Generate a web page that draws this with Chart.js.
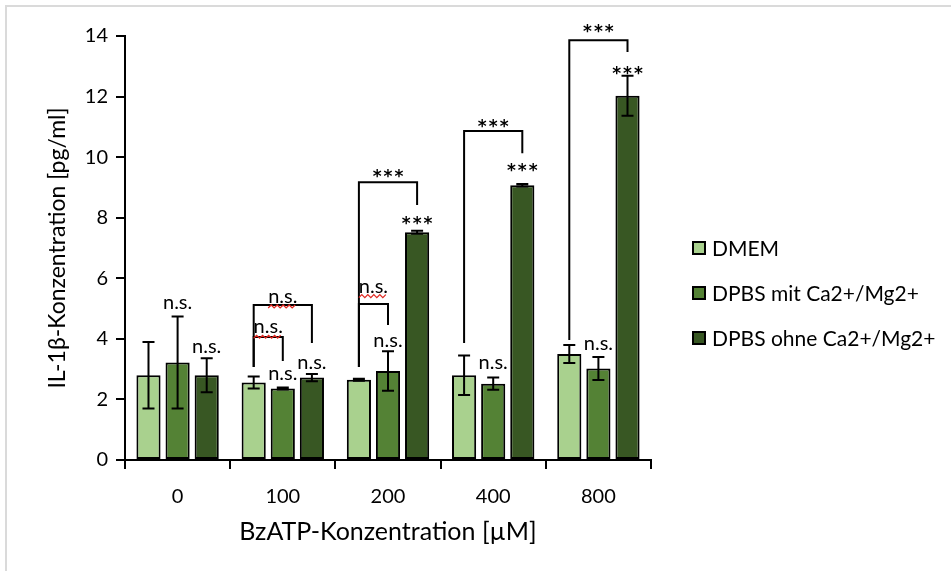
<!DOCTYPE html>
<html>
<head>
<meta charset="utf-8">
<script src="https://cdn.jsdelivr.net/npm/chart.js@4.4.1/dist/chart.umd.min.js"></script>
<style>
  html, body { margin: 0; padding: 0; background: #fff; }
  #wrap { position: relative; width: 951px; height: 571px; }
  #frame { position: absolute; left: 5px; top: 5px; right: 0; bottom: 0;
           border-top: 2px solid #dadada; border-left: 2px solid #dadada; pointer-events: none; }
</style>
</head>
<body>
<div id="wrap">
  <canvas id="il1bChart" width="951" height="571"></canvas>
  <div id="frame"></div>
</div>
<script>
// BzATP concentrations (µM)
const categories = ['0', '100', '200', '400', '800'];
const seriesNames = ['DMEM', 'DPBS mit Ca2+/Mg2+', 'DPBS ohne Ca2+/Mg2+'];

// IL-1β in pg/ml, mean and error
const dmem = [2.8, 2.56, 2.65, 2.8, 3.5];
const dmemErr = [1.1, 0.2, 0.03, 0.65, 0.3];
const dpbsMit = [3.22, 2.36, 2.94, 2.52, 3.02];
const dpbsMitErr = [1.52, 0.03, 0.65, 0.2, 0.38];
const dpbsOhne = [2.8, 2.72, 7.52, 9.07, 12.03];
const dpbsOhneErr = [0.56, 0.12, 0.05, 0.04, 0.66];

const yTicks = [0, 2, 4, 6, 8, 10, 12, 14];

// significance brackets: category, from series, to series, top, left leg end, right leg end
const bracketCat   = [1, 1, 2, 2, 3, 4];
const bracketFrom  = [0, 0, 0, 0, 0, 0];
const bracketTo    = [2, 1, 2, 1, 2, 2];
const bracketTop   = [5.12, 4.06, 9.17, 5.15, 10.86, 13.86];
const bracketLeft  = [3.07, 3.07, 3.07, 3.07, 3.86, 3.96];
const bracketRight = [3.86, 3.27, 8.42, 4.46, 10.13, 13.47];

// significance labels: category, from series, to series, y (centre), text, underlined by spellcheck
const labelCat  = [0, 0, 1, 1, 1, 1, 2, 2, 2, 2, 3, 3, 3, 4, 4, 4];
const labelFrom = [1, 2, 0, 0, 1, 2, 0, 0, 1, 2, 0, 1, 2, 0, 1, 2];
const labelTo   = [1, 2, 2, 1, 1, 2, 2, 1, 1, 2, 2, 1, 2, 2, 1, 2];
const labelY    = [5.2, 3.73, 5.4, 4.4, 2.87, 3.23, 9.47, 5.74, 3.93, 7.89, 11.12, 3.23, 9.64, 14.26, 3.83, 12.87];
const labelText = ['n.s.', 'n.s.', 'n.s.', 'n.s.', 'n.s.', 'n.s.', '***', 'n.s.', 'n.s.', '***',
                   '***', 'n.s.', '***', '***', 'n.s.', '***'];
const labelWavy = [false, false, true, true, false, false, false, true, false, false,
                   false, false, false, false, false, false];

const FONT = 'Lato, "Open Sans", sans-serif';
const errors = [dmemErr, dpbsMitErr, dpbsOhneErr];

function barX(chart, series, cat) {
    return chart.getDatasetMeta(series).data[cat].x;
}

const errorBars = {
    id: 'errorBars',
    afterDatasetsDraw(chart) {
        const ctx = chart.ctx;
        const y = chart.scales.y;
        ctx.save();
        ctx.strokeStyle = '#000';
        ctx.lineWidth = 2;
        chart.data.datasets.forEach((ds, i) => {
            chart.getDatasetMeta(i).data.forEach((bar, j) => {
                const v = ds.data[j], e = errors[i][j];
                const top = y.getPixelForValue(v + e);
                const bot = y.getPixelForValue(v - e);
                ctx.beginPath();
                ctx.moveTo(bar.x, top); ctx.lineTo(bar.x, bot);
                ctx.moveTo(bar.x - 6, top); ctx.lineTo(bar.x + 6, top);
                ctx.moveTo(bar.x - 6, bot); ctx.lineTo(bar.x + 6, bot);
                ctx.stroke();
            });
        });
        ctx.restore();
    }
};

const significance = {
    id: 'significance',
    afterDraw(chart) {
        const ctx = chart.ctx;
        const y = chart.scales.y;
        ctx.save();
        ctx.strokeStyle = '#000';
        ctx.lineWidth = 2;
        bracketCat.forEach((c, k) => {
            const x1 = barX(chart, bracketFrom[k], c);
            const x2 = barX(chart, bracketTo[k], c);
            ctx.beginPath();
            ctx.moveTo(x1, y.getPixelForValue(bracketLeft[k]));
            ctx.lineTo(x1, y.getPixelForValue(bracketTop[k]));
            ctx.lineTo(x2, y.getPixelForValue(bracketTop[k]));
            ctx.lineTo(x2, y.getPixelForValue(bracketRight[k]));
            ctx.stroke();
        });

        ctx.fillStyle = '#000';
        ctx.textAlign = 'center';
        ctx.textBaseline = 'middle';
        labelCat.forEach((c, k) => {
            const x = (barX(chart, labelFrom[k], c) + barX(chart, labelTo[k], c)) / 2;
            const py = y.getPixelForValue(labelY[k]);
            if (labelText[k] === '***') {
                ctx.font = 'bold 17px "DejaVu Sans", sans-serif';
                ctx.letterSpacing = '2px';
                ctx.fillText(labelText[k], x + 1, py + 4);
                ctx.letterSpacing = '0px';
                return;
            }
            ctx.font = '20px ' + FONT;
            ctx.fillText(labelText[k], x, py);
            if (labelWavy[k]) {
                // red spellcheck squiggle under the text
                const w = ctx.measureText(labelText[k]).width;
                ctx.save();
                ctx.strokeStyle = '#e0261f';
                ctx.lineWidth = 1.2;
                ctx.beginPath();
                const base = py + 10;
                for (let sx = x - w / 2, n = 0; sx <= x + w / 2; sx += 3, n++) {
                    const sy = base + (n % 2 ? -1.5 : 1.5);
                    if (n === 0) ctx.moveTo(sx, sy); else ctx.lineTo(sx, sy);
                }
                ctx.stroke();
                ctx.restore();
            }
        });
        ctx.restore();
    }
};

// legend on the right, next to the plot
const sideLegend = {
    id: 'sideLegend',
    afterDraw(chart) {
        const ctx = chart.ctx;
        const area = chart.chartArea;
        const x0 = area.right + 42;
        ctx.save();
        ctx.font = '21px ' + FONT;
        ctx.textBaseline = 'middle';
        ctx.textAlign = 'left';
        chart.data.datasets.forEach((ds, i) => {
            const cy = area.top + 212 + i * 45;
            ctx.fillStyle = ds.backgroundColor;
            ctx.fillRect(x0, cy - 6, 12, 12);
            ctx.strokeStyle = '#000';
            ctx.lineWidth = 2;
            ctx.strokeRect(x0, cy - 6, 12, 12);
            ctx.fillStyle = '#000';
            ctx.fillText(ds.label, x0 + 19, cy + 1);
        });
        ctx.restore();
    }
};

const colors = ['#a9d18e', '#548235', '#385723'];
const values = [dmem, dpbsMit, dpbsOhne];

const data = {
    labels: categories,
    datasets: seriesNames.map((name, i) => ({
        label: name,
        data: values[i],
        backgroundColor: colors[i],
        borderColor: '#000',
        borderWidth: 2,
        borderSkipped: false,
        categoryPercentage: 0.83,
        barPercentage: 0.83
    }))
};

new Chart(document.getElementById('il1bChart'), {
    type: 'bar',
    data: data,
    plugins: [errorBars, significance, sideLegend],
    options: {
        responsive: false,
        animation: false,
        layout: { padding: { left: 40, top: 36, right: 300, bottom: 8 } },
        plugins: {
            legend: { display: false },
            tooltip: { enabled: false }
        },
        scales: {
            x: {
                grid: { drawOnChartArea: false, color: '#000', lineWidth: 2, tickLength: 9, offset: true },
                border: { color: '#000', width: 2 },
                ticks: { font: { size: 20, family: FONT }, color: '#000', padding: 16 },
                title: {
                    display: true,
                    text: 'BzATP-Konzentration [µM]',
                    font: { size: 25, family: FONT },
                    color: '#000',
                    padding: { top: 4, bottom: 16 }
                },
                afterFit(scale) { scale.height = 103; }
            },
            y: {
                min: 0,
                max: 14,
                afterBuildTicks(scale) { scale.ticks = yTicks.map(v => ({ value: v })); },
                grid: { drawOnChartArea: false, color: '#000', lineWidth: 2, tickLength: 9 },
                border: { color: '#000', width: 2 },
                ticks: { font: { size: 20, family: FONT }, color: '#000', padding: 8 },
                title: {
                    display: true,
                    text: 'IL-1β-Konzentration [pg/ml]',
                    font: { size: 23, family: FONT },
                    color: '#000',
                    padding: 4
                },
                afterFit(scale) { scale.width = 85; }
            }
        }
    }
});
</script>
</body>
</html>
